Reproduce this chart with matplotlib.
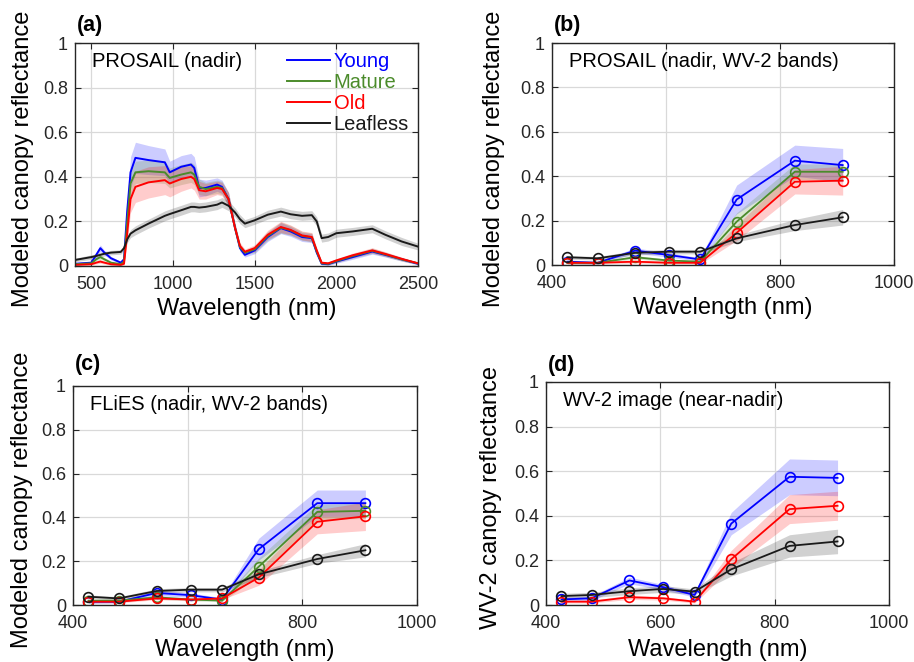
import numpy as np
import matplotlib.pyplot as plt

# ---------------- data ----------------
# (a) continuous PROSAIL spectra
wl_a = [400, 500, 530, 555, 580, 620, 680, 700, 720, 740, 770, 850, 950, 980, 1050, 1110, 1130, 1160, 1200, 1270,
        1300, 1340, 1380, 1410, 1440, 1500, 1580, 1660, 1720, 1790, 1850, 1880, 1910, 1950, 2000, 2100, 2220, 2300, 2400, 2500]

young_a = [0.01, 0.015, 0.05, 0.08, 0.06, 0.035, 0.015, 0.03, 0.25, 0.42, 0.485, 0.475, 0.465, 0.42, 0.445, 0.455, 0.44, 0.35, 0.35, 0.365,
           0.355, 0.3, 0.17, 0.08, 0.05, 0.07, 0.13, 0.17, 0.155, 0.13, 0.125, 0.06, 0.01, 0.008, 0.02, 0.04, 0.065, 0.05, 0.03, 0.01]
mature_a = [0.008, 0.012, 0.03, 0.04, 0.03, 0.015, 0.008, 0.02, 0.2, 0.37, 0.42, 0.425, 0.42, 0.395, 0.41, 0.42, 0.41, 0.355, 0.345, 0.355,
            0.35, 0.3, 0.17, 0.085, 0.06, 0.075, 0.135, 0.172, 0.16, 0.135, 0.128, 0.065, 0.012, 0.01, 0.022, 0.045, 0.068, 0.052, 0.03, 0.012]
old_a = [0.005, 0.008, 0.015, 0.02, 0.015, 0.008, 0.005, 0.01, 0.15, 0.3, 0.355, 0.375, 0.385, 0.37, 0.39, 0.4, 0.39, 0.34, 0.335, 0.35,
         0.345, 0.3, 0.17, 0.09, 0.064, 0.08, 0.14, 0.175, 0.162, 0.137, 0.13, 0.07, 0.015, 0.012, 0.025, 0.048, 0.07, 0.054, 0.032, 0.012]
leafless_a = [0.027, 0.04, 0.045, 0.05, 0.055, 0.06, 0.063, 0.08, 0.12, 0.145, 0.16, 0.19, 0.225, 0.233, 0.25, 0.265, 0.265, 0.262, 0.265, 0.275,
              0.285, 0.27, 0.24, 0.21, 0.19, 0.205, 0.23, 0.244, 0.232, 0.225, 0.228, 0.2, 0.125, 0.13, 0.147, 0.155, 0.167, 0.14, 0.11, 0.087]

young_a_sd = [0.005, 0.005, 0.01, 0.015, 0.01, 0.008, 0.005, 0.01, 0.05, 0.07, 0.07, 0.065, 0.06, 0.05, 0.05, 0.05, 0.05, 0.04, 0.035, 0.03,
              0.03, 0.03, 0.02, 0.015, 0.01, 0.015, 0.02, 0.025, 0.022, 0.02, 0.02, 0.012, 0.005, 0.005, 0.008, 0.01, 0.012, 0.01, 0.008, 0.005]
mature_a_sd = [0.004, 0.004, 0.008, 0.01, 0.008, 0.006, 0.004, 0.008, 0.04, 0.05, 0.05, 0.05, 0.05, 0.045, 0.045, 0.045, 0.045, 0.035, 0.03, 0.03,
               0.03, 0.03, 0.02, 0.015, 0.01, 0.015, 0.02, 0.025, 0.022, 0.02, 0.02, 0.012, 0.005, 0.005, 0.008, 0.01, 0.012, 0.01, 0.008, 0.005]
old_a_sd = [0.004, 0.004, 0.006, 0.008, 0.006, 0.005, 0.004, 0.006, 0.04, 0.06, 0.07, 0.07, 0.065, 0.06, 0.055, 0.05, 0.05, 0.04, 0.035, 0.03,
            0.03, 0.03, 0.02, 0.015, 0.012, 0.015, 0.02, 0.025, 0.022, 0.02, 0.02, 0.012, 0.005, 0.005, 0.008, 0.01, 0.012, 0.01, 0.008, 0.005]
leafless_a_sd = [0.008, 0.01, 0.01, 0.01, 0.01, 0.01, 0.01, 0.012, 0.015, 0.018, 0.02, 0.02, 0.022, 0.022, 0.022, 0.022, 0.022, 0.022, 0.022, 0.022,
                 0.022, 0.022, 0.02, 0.02, 0.018, 0.018, 0.02, 0.02, 0.02, 0.02, 0.02, 0.02, 0.018, 0.018, 0.018, 0.018, 0.018, 0.018, 0.018, 0.015]

# WV-2 band centres (nm)
wl_b = [427, 480, 546, 605, 660, 724, 826, 910]

# (b) PROSAIL, WV-2 bands
young_b = [0.015, 0.01, 0.065, 0.045, 0.025, 0.295, 0.47, 0.45]
mature_b = [0.01, 0.01, 0.035, 0.02, 0.015, 0.195, 0.42, 0.42]
old_b = [0.01, 0.01, 0.015, 0.01, 0.01, 0.145, 0.375, 0.38]
leafless_b = [0.035, 0.03, 0.055, 0.06, 0.06, 0.12, 0.18, 0.215]
young_b_sd = [0.008, 0.006, 0.012, 0.01, 0.008, 0.065, 0.07, 0.075]
mature_b_sd = [0.005, 0.005, 0.008, 0.006, 0.005, 0.04, 0.035, 0.035]
old_b_sd = [0.005, 0.005, 0.006, 0.005, 0.005, 0.035, 0.055, 0.065]
leafless_b_sd = [0.008, 0.008, 0.01, 0.01, 0.01, 0.015, 0.025, 0.035]

# (c) FLiES, WV-2 bands
young_c = [0.015, 0.015, 0.055, 0.045, 0.025, 0.255, 0.465, 0.465]
mature_c = [0.02, 0.02, 0.035, 0.025, 0.02, 0.175, 0.425, 0.43]
old_c = [0.015, 0.015, 0.03, 0.025, 0.03, 0.125, 0.38, 0.405]
leafless_c = [0.038, 0.03, 0.064, 0.07, 0.07, 0.14, 0.21, 0.25]
young_c_sd = [0.008, 0.006, 0.012, 0.01, 0.008, 0.05, 0.06, 0.06]
mature_c_sd = [0.005, 0.005, 0.008, 0.006, 0.005, 0.04, 0.035, 0.035]
old_c_sd = [0.005, 0.005, 0.006, 0.005, 0.005, 0.035, 0.055, 0.065]
leafless_c_sd = [0.008, 0.008, 0.01, 0.01, 0.01, 0.015, 0.02, 0.03]

# (d) WV-2 image (no mature class)
young_d = [0.025, 0.03, 0.11, 0.08, 0.045, 0.365, 0.575, 0.57]
old_d = [0.015, 0.015, 0.035, 0.03, 0.015, 0.205, 0.43, 0.445]
leafless_d = [0.04, 0.045, 0.062, 0.072, 0.06, 0.16, 0.265, 0.285]
young_d_sd = [0.01, 0.01, 0.015, 0.012, 0.01, 0.05, 0.08, 0.08]
old_d_sd = [0.006, 0.006, 0.01, 0.008, 0.006, 0.04, 0.065, 0.065]
leafless_d_sd = [0.012, 0.012, 0.015, 0.015, 0.012, 0.03, 0.05, 0.055]

labels = ['Young', 'Mature', 'Old', 'Leafless']
colors = {'Young': '#0000ff', 'Mature': '#4b8b2b', 'Old': '#ff0000', 'Leafless': '#1a1a1a'}

# ---------------- style ----------------
plt.rcParams['font.family'] = ['Liberation Sans', 'DejaVu Sans']
plt.rcParams['xtick.direction'] = 'in'
plt.rcParams['ytick.direction'] = 'in'
plt.rcParams['xtick.top'] = True
plt.rcParams['ytick.right'] = True

W, H = 914, 662
fig = plt.figure(figsize=(W / 100, H / 100), dpi=100)


def px_axes(l, t, r, b):
    return fig.add_axes([l / W, 1 - b / H, (r - l) / W, (b - t) / H])


def style(ax, xlim, xticks, ylabel, tag, tag_y, ylab_x, xlab_y, note):
    ax.set_xlim(*xlim)
    ax.set_ylim(0, 1)
    ax.set_xticks(xticks)
    ax.set_yticks([0, 0.2, 0.4, 0.6, 0.8, 1])
    ax.set_yticklabels(['0', '0.2', '0.4', '0.6', '0.8', '1'])
    ax.grid(True, color='#d9d9d9', linewidth=0.9)
    ax.set_axisbelow(True)
    for s in ax.spines.values():
        s.set_color('#262626')
        s.set_linewidth(1.0)
    ax.tick_params(labelsize=13, length=4, width=0.8, colors='#262626')
    ax.tick_params(axis='x', pad=7)
    ax.tick_params(axis='y', pad=5)
    ax.set_xlabel('Wavelength (nm)', fontsize=17)
    ax.xaxis.set_label_coords(0.5, xlab_y)
    ax.set_ylabel(ylabel, fontsize=17)
    ax.yaxis.set_label_coords(ylab_x, 0.48)
    ax.text(0.005, tag_y, tag, transform=ax.transAxes, fontsize=15.5, fontweight='bold', va='center')
    ax.text(0.05, 0.915, note, transform=ax.transAxes, fontsize=14.5, va='center')


def band(ax, x, y, sd, name, marker):
    y = np.array(y)
    sd = np.array(sd)
    c = colors[name]
    ax.fill_between(x, y - sd, y + sd, color=c, alpha=0.2, linewidth=0)
    if marker:
        ax.plot(x, y, color=c, linewidth=1.3, marker='o', markersize=7, markerfacecolor='none',
                markeredgewidth=1.2, label=name)
    else:
        ax.plot(x, y, color=c, linewidth=1.4, label=name)


# (a)
ax = px_axes(75, 43, 418, 266)
for name, y, sd in zip(labels, [young_a, mature_a, old_a, leafless_a],
                       [young_a_sd, mature_a_sd, old_a_sd, leafless_a_sd]):
    band(ax, wl_a, y, sd, name, False)
style(ax, (400, 2500), [500, 1000, 1500, 2000, 2500], 'Modeled canopy reflectance', '(a)', 1.08, -0.12, -0.145,
      'PROSAIL (nadir)')
leg = ax.legend(loc='upper right', frameon=False, fontsize=14.5, handlelength=2.1, handletextpad=0.2,
                labelspacing=0.1, borderaxespad=0.05, labelcolor='linecolor')

# (b)
ax = px_axes(552, 43, 894, 265)
for name, y, sd in zip(labels, [young_b, mature_b, old_b, leafless_b],
                       [young_b_sd, mature_b_sd, old_b_sd, leafless_b_sd]):
    band(ax, wl_b, y, sd, name, True)
style(ax, (400, 1000), [400, 600, 800, 1000], 'Modeled canopy reflectance', '(b)', 1.08, -0.137, -0.145,
      'PROSAIL (nadir, WV-2 bands)')

# (c)
ax = px_axes(73, 386, 417, 605)
for name, y, sd in zip(labels, [young_c, mature_c, old_c, leafless_c],
                       [young_c_sd, mature_c_sd, old_c_sd, leafless_c_sd]):
    band(ax, wl_b, y, sd, name, True)
style(ax, (400, 1000), [400, 600, 800, 1000], 'Modeled canopy reflectance', '(c)', 1.1, -0.116, -0.153,
      'FLiES (nadir, WV-2 bands)')

# (d)
ax = px_axes(546, 382, 889, 605)
for name, y, sd in zip(['Young', 'Old', 'Leafless'], [young_d, old_d, leafless_d],
                       [young_d_sd, old_d_sd, leafless_d_sd]):
    band(ax, wl_b, y, sd, name, True)
style(ax, (400, 1000), [400, 600, 800, 1000], 'WV-2 canopy reflectance', '(d)', 1.072, -0.128, -0.153,
      'WV-2 image (near-nadir)')

fig.savefig('out.png', dpi=100)
